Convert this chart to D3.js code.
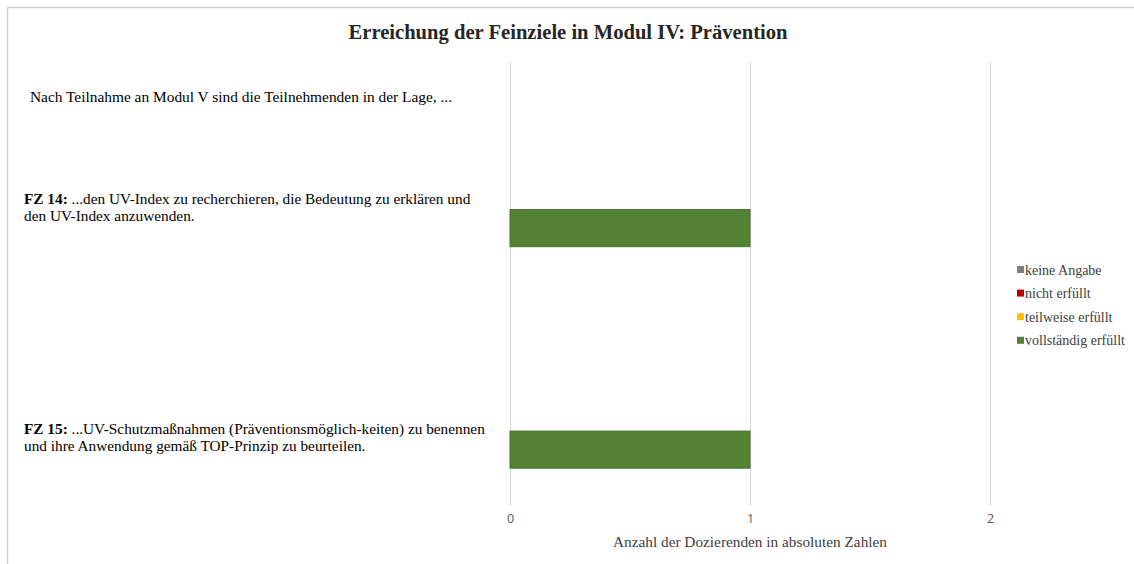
<!DOCTYPE html>
<html><head><meta charset="utf-8">
<script src="https://cdn.jsdelivr.net/npm/d3@7"></script>
<style>
html,body{margin:0;padding:0;background:#fff;}
svg{display:block;}
</style></head>
<body>
<svg id="chart" width="1134" height="564"></svg>
<script>
// ---- data ----
const title = "Erreichung der Feinziele in Modul IV: Prävention";
const rows = ["Intro", "FZ 14", "Leer", "FZ 15"];
const introText = "Nach Teilnahme an Modul V sind die Teilnehmenden in der Lage, ...";
const rowLabels = {
  "FZ 14": ["...den UV-Index zu recherchieren, die Bedeutung zu erklären und", "den UV-Index anzuwenden."],
  "FZ 15": ["...UV-Schutzmaßnahmen (Präventionsmöglich-keiten) zu benennen", "und ihre Anwendung gemäß TOP-Prinzip zu beurteilen."]
};
const seriesNames = ["keine Angabe", "nicht erfüllt", "teilweise erfüllt", "vollständig erfüllt"];
const keineAngabe = [0, 0, 0, 0];
const nichtErfuellt = [0, 0, 0, 0];
const teilweiseErfuellt = [0, 0, 0, 0];
const vollstaendigErfuellt = [0, 1, 0, 1];
const seriesColors = ["#7f7f7f", "#c00000", "#ffc000", "#548235"];
const xTicks = [0, 1, 2];
const xTitle = "Anzahl der Dozierenden in absoluten Zahlen";

// ---- build ----
const table = rows.map((r, i) => ({
  row: r,
  "keine Angabe": keineAngabe[i],
  "nicht erfüllt": nichtErfuellt[i],
  "teilweise erfüllt": teilweiseErfuellt[i],
  "vollständig erfüllt": vollstaendigErfuellt[i]
}));
const stacked = d3.stack().keys(seriesNames)(table);

const svg = d3.select("#chart");
const serif = "'Liberation Serif','Times New Roman',serif";

// outer border (top & left visible)
svg.append("line").attr("x1", 7.5).attr("x2", 1134).attr("y1", 7.5).attr("y2", 7.5).attr("stroke", "#d0d0d0").attr("stroke-width", 1.5);
svg.append("line").attr("x1", 7.5).attr("x2", 7.5).attr("y1", 7.5).attr("y2", 564).attr("stroke", "#d0d0d0").attr("stroke-width", 1.5);

const x = d3.scaleLinear().domain([0, 2]).range([510, 990]);
const y = d3.scaleBand().domain(rows).range([62, 505]).paddingInner(0.665).paddingOuter(0.3325);

// gridlines
svg.append("g").selectAll("line").data(xTicks).join("line")
  .attr("x1", d => x(d) + 0.5).attr("x2", d => x(d) + 0.5)
  .attr("y1", 62).attr("y2", 505)
  .attr("stroke", "#d9d9d9").attr("stroke-width", 1);

// bars
svg.append("g").selectAll("g").data(stacked).join("g")
  .attr("fill", (d, i) => seriesColors[i])
  .attr("stroke", (d, i) => d3.color(seriesColors[i]).darker(0.4))
  .selectAll("rect").data(d => d.filter(p => p[1] - p[0] > 0)).join("rect")
  .attr("x", d => x(d[0]))
  .attr("width", d => x(d[1]) - x(d[0]))
  .attr("y", d => y(d.data.row))
  .attr("height", y.bandwidth());

// x axis tick labels
const xAxis = d3.axisBottom(x).tickValues(xTicks).tickFormat(d3.format("d")).tickSize(0).tickPadding(0);
const gx = svg.append("g").attr("transform", "translate(0,514)").call(xAxis);
gx.select(".domain").remove();
gx.selectAll("text").attr("font-family", "'Open Sans','Noto Sans',sans-serif").attr("font-size", 12.5).attr("fill", "#595959");

// x title
svg.append("text").attr("x", x(1)).attr("y", 547).attr("text-anchor", "middle")
  .attr("font-family", serif).attr("font-size", 15.3).attr("fill", "#404040").text(xTitle);

// title
svg.append("text").attr("x", 568).attr("y", 39).attr("text-anchor", "middle")
  .attr("font-family", serif).attr("font-size", 20.6).attr("font-weight", "bold").attr("fill", "#262626").text(title);

// intro label
svg.append("text").attr("x", 30).attr("y", y("Intro") + 3)
  .attr("font-family", serif).attr("font-size", 15.4).attr("fill", "#000").text(introText);

// row labels
["FZ 14", "FZ 15"].forEach(r => {
  const top = r === "FZ 14" ? y(r) - 6 : y(r) + 3;
  const t = svg.append("text").attr("font-family", serif).attr("font-size", 15.3).attr("fill", "#000");
  const l1 = t.append("tspan").attr("x", 24).attr("y", top);
  l1.append("tspan").attr("font-weight", "bold").text(r + ": ");
  l1.append("tspan").text(rowLabels[r][0]);
  t.append("tspan").attr("x", 24).attr("y", top + 17).text(rowLabels[r][1]);
});

// legend
const lg = svg.append("g").selectAll("g").data(seriesNames).join("g")
  .attr("transform", (d, i) => `translate(1017,${270 + i * 23.6})`);
lg.append("rect").attr("x", 0).attr("y", -4).attr("width", 7).attr("height", 7).attr("fill", (d, i) => seriesColors[i]);
lg.append("text").attr("x", 8).attr("y", 4.5).attr("font-family", serif).attr("font-size", 14).attr("fill", "#404040").text(d => d);
</script>
</body></html>
